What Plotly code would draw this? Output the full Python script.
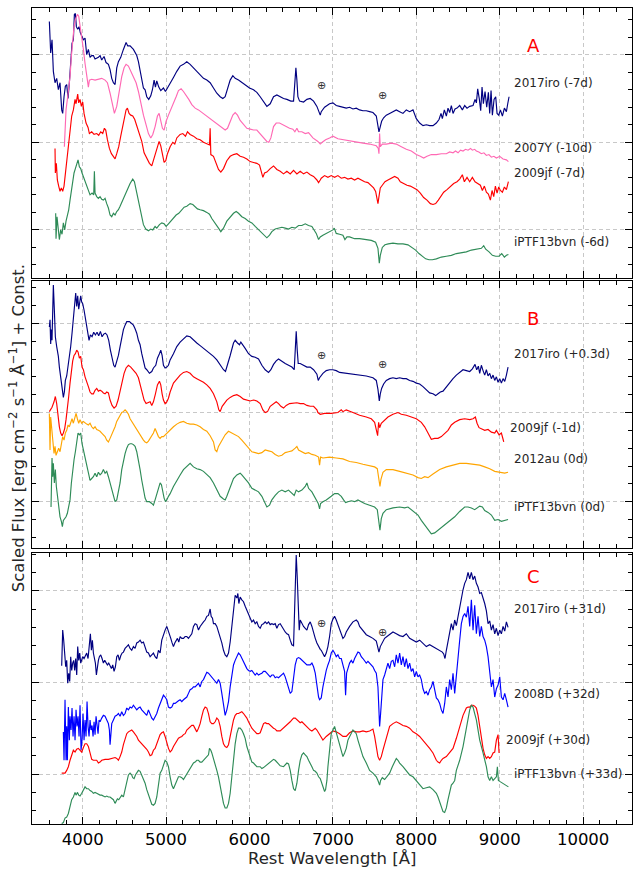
import plotly.graph_objects as go

# ---------------------------------------------------------------
# Spectra: (rest wavelength [Å], scaled flux + const)
# ---------------------------------------------------------------

# Panel A : pre-maximum
A_2017iro = [(3600,2.38),(3616,2.02),(3632,2.17),(3648,1.81),(3668,1.68),(3688,1.73),(3708,1.60),(3728,1.68),(3748,1.37),(3760,1.33),(3776,1.52),(3792,1.64),(3808,1.66),(3824,1.50),(3840,1.68),(3856,1.87),(3872,2.13),(3888,2.17),(3900,2.46),(3912,2.47),(3924,2.32),(3940,2.29),(3956,2.32),(3972,2.25),(3992,2.21),(4008,2.17),(4028,2.19),(4048,2.00),(4068,2.06),(4088,1.97),(4108,1.99),(4128,1.99),(4148,1.95),(4168,1.96),(4188,1.97),(4208,1.99),(4228,1.94),(4256,1.98),(4280,1.91),(4308,1.89),(4328,1.83),(4348,1.73),(4368,1.68),(4388,1.66),(4408,1.85),(4428,1.92),(4456,1.97),(4488,2.06),(4520,2.14),(4540,2.10),(4568,2.10),(4608,2.06),(4628,2.02),(4648,1.99),(4668,1.92),(4688,1.83),(4708,1.74),(4728,1.62),(4748,1.60),(4768,1.52),(4792,1.49),(4816,1.53),(4836,1.60),(4856,1.71),(4872,1.63),(4888,1.70),(4912,1.63),(4936,1.59),(4968,1.62),(4992,1.58),(5016,1.62),(5048,1.68),(5088,1.74),(5128,1.81),(5168,1.87),(5208,1.89),(5248,1.92),(5288,1.89),(5328,1.85),(5368,1.81),(5408,1.77),(5448,1.73),(5488,1.71),(5528,1.68),(5568,1.62),(5608,1.56),(5648,1.52),(5680,1.50),(5708,1.52),(5736,1.60),(5768,1.71),(5800,1.76),(5828,1.73),(5868,1.71),(5908,1.68),(5948,1.65),(6000,1.62),(6048,1.60),(6088,1.57),(6128,1.52),(6168,1.46),(6208,1.41),(6248,1.44),(6288,1.52),(6328,1.54),(6368,1.52),(6408,1.50),(6448,1.49),(6496,1.47),(6528,1.47),(6544,1.68),(6556,1.85),(6568,1.71),(6580,1.52),(6600,1.47),(6648,1.46),(6688,1.49),(6728,1.50),(6768,1.47),(6808,1.41),(6848,1.31),(6860,1.35),(6900,1.40),(6960,1.44),(7000,1.45),(7040,1.42),(7080,1.41),(7120,1.40),(7160,1.39),(7200,1.40),(7240,1.38),(7280,1.39),(7320,1.37),(7360,1.36),(7400,1.36),(7440,1.35),(7480,1.34),(7520,1.30),(7536,1.23),(7552,1.12),(7568,1.18),(7584,1.24),(7608,1.28),(7640,1.31),(7680,1.33),(7720,1.35),(7760,1.37),(7800,1.35),(7840,1.33),(7880,1.37),(7920,1.35),(7960,1.37),(7980,1.31),(8000,1.27),(8040,1.22),(8080,1.19),(8120,1.20),(8160,1.19),(8200,1.19),(8240,1.22),(8272,1.26),(8296,1.33),(8312,1.27),(8336,1.37),(8360,1.30),(8380,1.39),(8400,1.34),(8420,1.42),(8440,1.33),(8464,1.38),(8488,1.39),(8520,1.42),(8552,1.37),(8580,1.42),(8608,1.39),(8640,1.41),(8680,1.42),(8704,1.49),(8720,1.45),(8736,1.61),(8756,1.49),(8772,1.36),(8788,1.63),(8804,1.44),(8824,1.58),(8844,1.40),(8864,1.57),(8880,1.33),(8896,1.59),(8912,1.31),(8932,1.49),(8952,1.52),(8968,1.33),(8988,1.31),(9008,1.37),(9032,1.30),(9056,1.39),(9080,1.35),(9096,1.44),(9112,1.52)]

A_2007Y = [(3780,0.95),(3788,1.18),(3800,1.37),(3816,1.49),(3832,1.60),(3848,1.75),(3864,1.98),(3880,2.17),(3896,2.32),(3912,2.40),(3936,2.46),(3952,2.44),(3968,2.34),(3988,2.21),(4008,2.06),(4028,1.90),(4048,1.75),(4068,1.63),(4080,1.71),(4108,1.72),(4148,1.71),(4188,1.72),(4228,1.73),(4268,1.71),(4296,1.68),(4328,1.56),(4356,1.41),(4380,1.33),(4408,1.41),(4436,1.58),(4468,1.75),(4496,1.85),(4520,1.89),(4548,1.87),(4580,1.81),(4608,1.75),(4640,1.68),(4668,1.58),(4696,1.45),(4728,1.31),(4760,1.20),(4788,1.10),(4816,1.05),(4840,1.09),(4868,1.18),(4896,1.30),(4916,1.33),(4936,1.26),(4956,1.16),(4976,1.14),(5000,1.24),(5028,1.31),(5056,1.37),(5088,1.45),(5120,1.52),(5148,1.59),(5180,1.61),(5208,1.58),(5240,1.54),(5272,1.49),(5308,1.43),(5348,1.39),(5388,1.37),(5428,1.34),(5468,1.31),(5508,1.29),(5548,1.26),(5588,1.23),(5628,1.19),(5668,1.16),(5708,1.14),(5736,1.16),(5768,1.24),(5800,1.31),(5828,1.34),(5856,1.31),(5888,1.25),(5928,1.20),(5968,1.16),(6008,1.15),(6048,1.14),(6088,1.14),(6128,1.10),(6168,1.06),(6208,1.01),(6232,1.00),(6256,1.05),(6288,1.18),(6320,1.22),(6360,1.22),(6400,1.20),(6440,1.18),(6480,1.16),(6520,1.15),(6544,1.12),(6568,1.16),(6588,1.12),(6628,1.12),(6668,1.10),(6708,1.11),(6760,1.05),(6820,1.01),(6848,0.98),(6872,1.00),(6912,1.03),(6960,1.05),(7000,1.07),(7060,1.04),(7120,1.03),(7200,1.01),(7280,1.00),(7360,0.99),(7440,0.98),(7520,0.96),(7544,0.93),(7552,0.87),(7560,1.10),(7568,0.95),(7592,0.98),(7640,0.98),(7700,0.99),(7760,0.98),(7820,0.95),(7880,0.92),(7940,0.90),(8000,0.86),(8048,0.84),(8088,0.82),(8128,0.84),(8180,0.86),(8240,0.86),(8300,0.87),(8360,0.87),(8400,0.89),(8440,0.88),(8470,0.90),(8500,0.88),(8530,0.91),(8560,0.90),(8590,0.92),(8620,0.91),(8650,0.93),(8672,0.91),(8700,0.92),(8720,0.90),(8750,0.89),(8780,0.87),(8810,0.88),(8840,0.85),(8870,0.86),(8900,0.83),(8930,0.84),(8960,0.82),(9000,0.84),(9040,0.81),(9080,0.80),(9104,0.78)]

A_2009jf = [(3668,0.93),(3672,0.65),(3684,0.76),(3696,0.57),(3712,0.50),(3728,0.44),(3744,0.48),(3760,0.44),(3776,0.50),(3792,0.65),(3808,0.80),(3828,0.99),(3848,1.14),(3868,1.30),(3888,1.37),(3908,1.49),(3920,1.44),(3940,1.55),(3952,1.45),(3968,1.49),(3984,1.41),(4000,1.46),(4016,1.33),(4040,1.22),(4064,1.17),(4080,1.10),(4108,1.12),(4136,1.09),(4168,1.10),(4192,1.08),(4216,1.12),(4240,1.10),(4260,1.16),(4276,1.14),(4296,1.03),(4320,0.93),(4344,0.87),(4368,0.83),(4388,0.81),(4408,0.87),(4432,0.95),(4456,1.07),(4480,1.18),(4504,1.30),(4520,1.37),(4536,1.39),(4556,1.33),(4576,1.31),(4600,1.30),(4624,1.26),(4648,1.18),(4680,1.10),(4708,1.01),(4736,0.88),(4768,0.81),(4800,0.76),(4828,0.73),(4848,0.79),(4872,0.88),(4896,0.96),(4916,1.01),(4936,0.96),(4956,0.84),(4976,0.77),(4996,0.79),(5016,0.87),(5048,0.95),(5080,1.00),(5104,0.98),(5128,1.05),(5168,1.09),(5200,1.10),(5232,1.07),(5256,1.12),(5288,1.09),(5328,1.07),(5368,1.04),(5408,1.03),(5448,1.00),(5488,0.98),(5520,0.97),(5528,1.16),(5536,0.86),(5568,0.84),(5600,0.76),(5628,0.69),(5656,0.66),(5688,0.70),(5728,0.79),(5768,0.84),(5808,0.86),(5848,0.87),(5888,0.84),(5928,0.83),(5968,0.81),(6008,0.78),(6048,0.77),(6088,0.76),(6120,0.74),(6140,0.65),(6160,0.60),(6180,0.65),(6208,0.66),(6248,0.70),(6288,0.73),(6328,0.69),(6368,0.67),(6408,0.64),(6448,0.67),(6488,0.64),(6528,0.68),(6568,0.64),(6608,0.67),(6648,0.64),(6688,0.66),(6728,0.63),(6768,0.61),(6808,0.57),(6828,0.54),(6848,0.57),(6860,0.59),(6900,0.62),(6940,0.60),(6980,0.62),(7020,0.60),(7060,0.62),(7100,0.59),(7140,0.60),(7180,0.58),(7220,0.59),(7260,0.57),(7300,0.59),(7340,0.57),(7380,0.55),(7420,0.54),(7460,0.51),(7488,0.48),(7512,0.44),(7528,0.35),(7540,0.30),(7552,0.38),(7568,0.48),(7592,0.51),(7624,0.55),(7660,0.57),(7700,0.59),(7740,0.61),(7780,0.59),(7808,0.55),(7848,0.53),(7888,0.51),(7928,0.50),(7968,0.48),(8008,0.46),(8048,0.42),(8088,0.37),(8128,0.34),(8168,0.30),(8200,0.29),(8232,0.30),(8264,0.34),(8296,0.39),(8328,0.43),(8368,0.46),(8408,0.50),(8448,0.53),(8488,0.55),(8520,0.58),(8552,0.63),(8576,0.55),(8608,0.60),(8640,0.55),(8672,0.60),(8704,0.55),(8736,0.53),(8768,0.51),(8792,0.45),(8816,0.50),(8840,0.43),(8864,0.41),(8888,0.34),(8908,0.45),(8928,0.38),(8948,0.50),(8968,0.42),(8988,0.49),(9008,0.45),(9032,0.43),(9056,0.49),(9080,0.46),(9104,0.55)]

A_iPTF13bvn = [(3676,0.19),(3680,-0.10),(3692,0.15),(3708,0.00),(3720,-0.11),(3736,0.00),(3752,-0.05),(3768,0.08),(3784,0.00),(3800,0.10),(3816,0.15),(3832,0.23),(3848,0.34),(3864,0.46),(3880,0.57),(3896,0.65),(3912,0.70),(3928,0.75),(3944,0.80),(3960,0.72),(3976,0.70),(3992,0.65),(4008,0.61),(4028,0.55),(4048,0.50),(4068,0.44),(4088,0.40),(4112,0.42),(4132,0.40),(4140,0.67),(4148,0.42),(4168,0.38),(4188,0.36),(4208,0.38),(4228,0.35),(4248,0.34),(4268,0.36),(4288,0.30),(4308,0.25),(4328,0.17),(4348,0.15),(4368,0.19),(4388,0.17),(4408,0.21),(4428,0.23),(4448,0.27),(4480,0.34),(4508,0.42),(4536,0.48),(4568,0.53),(4600,0.58),(4620,0.55),(4640,0.46),(4668,0.34),(4688,0.26),(4708,0.15),(4728,0.06),(4756,0.01),(4788,-0.01),(4816,0.01),(4840,0.00),(4868,0.04),(4888,0.02),(4920,0.06),(4948,0.08),(4976,0.07),(5000,0.04),(5028,0.07),(5056,0.10),(5088,0.13),(5120,0.17),(5152,0.19),(5188,0.23),(5216,0.26),(5248,0.27),(5288,0.30),(5320,0.29),(5348,0.27),(5376,0.24),(5408,0.23),(5448,0.22),(5488,0.20),(5520,0.18),(5548,0.13),(5588,0.08),(5628,0.02),(5656,-0.02),(5688,0.02),(5728,0.10),(5768,0.15),(5808,0.19),(5840,0.21),(5868,0.19),(5908,0.15),(5948,0.13),(5988,0.10),(6028,0.08),(6068,0.04),(6108,0.00),(6148,-0.04),(6188,-0.08),(6208,-0.09),(6240,-0.06),(6268,-0.02),(6308,0.01),(6348,0.02),(6388,0.03),(6428,0.02),(6468,0.01),(6508,0.03),(6548,0.02),(6588,0.05),(6628,0.05),(6668,0.07),(6708,0.05),(6748,0.04),(6800,-0.04),(6828,-0.11),(6848,-0.08),(6880,-0.06),(6920,-0.04),(6960,-0.02),(7000,0.00),(7016,0.02),(7040,-0.04),(7080,-0.05),(7120,-0.06),(7144,-0.11),(7168,-0.08),(7200,-0.08),(7260,-0.10),(7320,-0.10),(7400,-0.11),(7460,-0.12),(7512,-0.14),(7540,-0.21),(7556,-0.38),(7568,-0.29),(7592,-0.20),(7624,-0.17),(7664,-0.16),(7720,-0.15),(7780,-0.16),(7840,-0.16),(7900,-0.17),(7952,-0.20),(7992,-0.23),(8032,-0.27),(8072,-0.30),(8112,-0.33),(8152,-0.34),(8192,-0.34),(8240,-0.33),(8300,-0.31),(8360,-0.30),(8420,-0.29),(8480,-0.27),(8540,-0.26),(8600,-0.25),(8660,-0.23),(8720,-0.22),(8780,-0.21),(8808,-0.18),(8832,-0.22),(8872,-0.25),(8912,-0.29),(8952,-0.30),(8992,-0.30),(9024,-0.27),(9056,-0.31),(9080,-0.29),(9104,-0.28)]

# Panel B : around maximum
B_2017iro = [(3600,1.96),(3608,2.04),(3616,1.77),(3624,1.93),(3632,1.81),(3640,2.19),(3648,2.43),(3660,2.15),(3672,1.85),(3688,1.74),(3708,1.63),(3720,1.51),(3736,1.40),(3752,1.28),(3768,1.17),(3780,1.23),(3792,1.36),(3808,1.41),(3824,1.51),(3840,1.62),(3856,1.74),(3872,1.89),(3888,2.07),(3904,2.19),(3916,2.34),(3928,2.19),(3940,2.31),(3952,2.16),(3964,2.27),(3976,2.31),(3988,2.24),(4000,2.22),(4016,2.15),(4032,2.07),(4044,2.00),(4060,1.93),(4076,1.81),(4092,1.87),(4112,1.85),(4132,1.90),(4152,1.87),(4172,1.90),(4192,1.86),(4212,1.91),(4232,1.85),(4252,1.88),(4272,1.89),(4292,1.87),(4312,1.81),(4332,1.70),(4352,1.62),(4372,1.53),(4388,1.51),(4408,1.57),(4428,1.64),(4448,1.74),(4468,1.85),(4488,1.93),(4508,1.98),(4528,2.02),(4560,2.02),(4588,2.00),(4608,1.98),(4628,1.94),(4648,1.89),(4668,1.81),(4688,1.76),(4708,1.66),(4728,1.59),(4748,1.50),(4768,1.48),(4800,1.44),(4828,1.46),(4848,1.50),(4876,1.53),(4896,1.61),(4920,1.66),(4936,1.70),(4952,1.64),(4968,1.53),(4988,1.50),(5008,1.51),(5028,1.53),(5048,1.59),(5088,1.66),(5128,1.74),(5168,1.79),(5208,1.83),(5248,1.86),(5288,1.85),(5328,1.81),(5368,1.78),(5408,1.75),(5448,1.72),(5488,1.70),(5528,1.67),(5568,1.63),(5608,1.59),(5648,1.53),(5688,1.48),(5712,1.46),(5736,1.53),(5768,1.64),(5808,1.78),(5828,1.81),(5856,1.78),(5880,1.76),(5896,1.79),(5920,1.75),(5948,1.72),(5988,1.66),(6028,1.63),(6068,1.62),(6108,1.60),(6148,1.53),(6188,1.48),(6228,1.45),(6256,1.48),(6288,1.54),(6320,1.58),(6348,1.60),(6388,1.57),(6428,1.55),(6468,1.53),(6508,1.51),(6536,1.48),(6548,1.70),(6560,1.91),(6572,1.70),(6584,1.55),(6608,1.55),(6648,1.53),(6688,1.51),(6728,1.51),(6768,1.48),(6808,1.43),(6824,1.36),(6840,1.39),(6880,1.44),(6920,1.47),(6960,1.48),(7000,1.48),(7040,1.47),(7080,1.45),(7160,1.44),(7240,1.43),(7320,1.42),(7400,1.41),(7480,1.39),(7520,1.36),(7540,1.26),(7556,1.13),(7568,1.21),(7584,1.27),(7608,1.32),(7640,1.36),(7680,1.38),(7720,1.39),(7760,1.38),(7800,1.39),(7840,1.38),(7880,1.38),(7920,1.36),(7960,1.35),(8000,1.33),(8040,1.32),(8080,1.29),(8120,1.25),(8160,1.22),(8200,1.21),(8232,1.19),(8260,1.21),(8288,1.23),(8320,1.24),(8360,1.29),(8400,1.33),(8440,1.38),(8480,1.42),(8520,1.45),(8560,1.48),(8600,1.47),(8640,1.46),(8672,1.49),(8704,1.54),(8724,1.48),(8744,1.52),(8760,1.44),(8780,1.53),(8800,1.47),(8820,1.42),(8840,1.48),(8860,1.41),(8880,1.44),(8900,1.38),(8920,1.42),(8940,1.36),(8960,1.40),(8980,1.34),(9000,1.38),(9020,1.33),(9040,1.38),(9060,1.35),(9080,1.42),(9100,1.51)]

B_2009jf = [(3600,1.01),(3632,1.06),(3656,1.12),(3672,1.18),(3688,1.10),(3704,0.95),(3720,0.84),(3736,0.77),(3752,0.74),(3768,0.77),(3784,0.82),(3800,0.92),(3816,1.03),(3832,1.18),(3848,1.33),(3864,1.48),(3880,1.58),(3896,1.64),(3912,1.66),(3928,1.70),(3944,1.68),(3960,1.61),(3976,1.63),(3992,1.51),(4008,1.48),(4028,1.40),(4048,1.33),(4068,1.29),(4088,1.23),(4108,1.21),(4128,1.21),(4148,1.25),(4168,1.27),(4188,1.24),(4208,1.25),(4228,1.24),(4248,1.22),(4268,1.21),(4288,1.23),(4308,1.22),(4328,1.14),(4352,1.08),(4376,1.05),(4400,1.07),(4424,1.14),(4448,1.25),(4472,1.36),(4496,1.44),(4520,1.50),(4548,1.53),(4576,1.51),(4608,1.48),(4640,1.44),(4668,1.39),(4688,1.31),(4712,1.21),(4736,1.14),(4760,1.10),(4784,1.11),(4808,1.12),(4828,1.08),(4848,1.12),(4872,1.21),(4896,1.31),(4920,1.35),(4936,1.31),(4952,1.21),(4968,1.14),(4988,1.10),(5008,1.12),(5028,1.16),(5048,1.23),(5088,1.33),(5128,1.38),(5168,1.42),(5208,1.45),(5248,1.46),(5288,1.44),(5328,1.40),(5368,1.38),(5408,1.36),(5448,1.34),(5488,1.31),(5528,1.27),(5568,1.21),(5608,1.12),(5632,1.03),(5648,1.01),(5672,1.07),(5696,1.10),(5728,1.14),(5768,1.17),(5808,1.19),(5848,1.20),(5888,1.18),(5928,1.15),(5968,1.14),(6008,1.13),(6048,1.14),(6088,1.13),(6128,1.10),(6160,1.03),(6188,1.00),(6216,1.01),(6248,1.07),(6288,1.10),(6320,1.12),(6348,1.10),(6376,1.07),(6408,1.05),(6440,1.08),(6480,1.10),(6528,1.11),(6568,1.11),(6608,1.10),(6648,1.10),(6688,1.08),(6728,1.07),(6768,1.07),(6808,1.03),(6820,1.00),(6848,0.98),(6900,0.99),(6980,0.99),(7060,1.00),(7100,1.03),(7120,1.01),(7160,1.03),(7240,1.00),(7320,0.97),(7400,0.95),(7460,0.93),(7500,0.89),(7524,0.81),(7536,0.74),(7548,0.89),(7560,0.83),(7580,0.88),(7620,0.92),(7660,0.95),(7720,0.98),(7780,1.00),(7820,0.98),(7880,0.97),(7940,0.95),(8000,0.93),(8060,0.89),(8100,0.84),(8140,0.77),(8180,0.70),(8220,0.71),(8260,0.71),(8300,0.73),(8340,0.77),(8380,0.80),(8420,0.86),(8460,0.89),(8520,0.92),(8580,0.93),(8640,0.92),(8680,0.93),(8708,0.95),(8728,0.88),(8752,0.83),(8780,0.82),(8820,0.80),(8860,0.81),(8900,0.78),(8940,0.77),(8960,0.80),(8992,0.75),(9020,0.77),(9040,0.70),(9048,0.67)]

B_2012au = [(3600,0.99),(3608,0.58),(3616,0.95),(3628,0.80),(3640,0.65),(3656,0.54),(3668,0.62),(3680,0.52),(3696,0.56),(3712,0.60),(3728,0.56),(3744,0.65),(3760,0.73),(3776,0.69),(3792,0.77),(3808,0.80),(3824,0.86),(3840,0.84),(3856,0.90),(3872,0.93),(3888,0.88),(3904,0.95),(3920,0.99),(3936,0.93),(3952,0.88),(3968,0.92),(3988,0.88),(4008,0.90),(4028,0.88),(4048,0.87),(4068,0.86),(4088,0.88),(4108,0.84),(4128,0.82),(4148,0.84),(4168,0.81),(4188,0.80),(4208,0.79),(4228,0.77),(4248,0.75),(4268,0.73),(4288,0.69),(4308,0.67),(4328,0.71),(4348,0.75),(4368,0.80),(4388,0.84),(4408,0.90),(4428,0.93),(4448,0.97),(4468,1.00),(4488,1.01),(4508,1.03),(4528,1.01),(4548,0.98),(4568,0.93),(4588,0.90),(4608,0.87),(4628,0.84),(4648,0.81),(4668,0.77),(4688,0.75),(4708,0.72),(4728,0.69),(4748,0.67),(4768,0.66),(4788,0.68),(4808,0.71),(4828,0.74),(4848,0.77),(4868,0.82),(4888,0.77),(4908,0.73),(4928,0.71),(4948,0.73),(4968,0.73),(4988,0.75),(5008,0.77),(5048,0.80),(5088,0.84),(5128,0.87),(5168,0.89),(5208,0.90),(5248,0.88),(5288,0.87),(5328,0.87),(5368,0.86),(5408,0.84),(5448,0.81),(5488,0.79),(5528,0.74),(5568,0.67),(5588,0.58),(5608,0.56),(5628,0.62),(5668,0.69),(5708,0.75),(5748,0.79),(5788,0.77),(5828,0.75),(5868,0.73),(5908,0.69),(5948,0.65),(5988,0.60),(6028,0.56),(6068,0.55),(6108,0.54),(6148,0.55),(6188,0.58),(6228,0.57),(6268,0.56),(6308,0.53),(6348,0.51),(6388,0.52),(6428,0.55),(6468,0.56),(6508,0.57),(6548,0.60),(6568,0.62),(6588,0.58),(6628,0.56),(6668,0.54),(6708,0.55),(6748,0.53),(6788,0.52),(6828,0.50),(6840,0.41),(6852,0.50),(6880,0.49),(6960,0.50),(7040,0.49),(7120,0.48),(7200,0.45),(7280,0.44),(7360,0.42),(7440,0.40),(7500,0.39),(7532,0.37),(7548,0.26),(7564,0.17),(7576,0.25),(7600,0.33),(7640,0.36),(7720,0.36),(7800,0.34),(7880,0.32),(7960,0.30),(8020,0.27),(8060,0.26),(8100,0.28),(8140,0.27),(8200,0.31),(8280,0.36),(8360,0.39),(8440,0.41),(8520,0.43),(8600,0.43),(8680,0.42),(8760,0.41),(8820,0.39),(8880,0.37),(8940,0.34),(9000,0.33),(9060,0.32),(9100,0.33)]

B_iPTF13bvn = [(3620,-0.06),(3632,0.49),(3640,0.28),(3648,0.43),(3660,0.21),(3672,0.36),(3684,0.17),(3696,0.06),(3712,-0.09),(3728,-0.17),(3744,-0.22),(3756,-0.28),(3768,-0.21),(3784,-0.19),(3800,-0.17),(3816,-0.13),(3832,-0.07),(3848,0.02),(3864,0.21),(3880,0.36),(3896,0.47),(3912,0.56),(3928,0.69),(3944,0.77),(3960,0.75),(3976,0.77),(3992,0.65),(4008,0.58),(4028,0.47),(4048,0.39),(4068,0.32),(4088,0.24),(4108,0.26),(4128,0.28),(4148,0.32),(4168,0.28),(4188,0.33),(4208,0.30),(4228,0.32),(4248,0.36),(4268,0.32),(4288,0.34),(4308,0.28),(4328,0.21),(4348,0.11),(4368,0.04),(4388,0.00),(4408,0.02),(4428,0.11),(4448,0.21),(4468,0.36),(4488,0.47),(4508,0.54),(4528,0.60),(4548,0.64),(4568,0.65),(4588,0.65),(4608,0.64),(4628,0.62),(4648,0.56),(4668,0.47),(4688,0.36),(4708,0.24),(4728,0.13),(4748,0.04),(4768,0.00),(4800,0.00),(4828,-0.02),(4848,-0.04),(4868,0.02),(4888,0.09),(4908,0.17),(4928,0.21),(4944,0.19),(4960,0.09),(4976,0.04),(4992,0.00),(5008,0.02),(5028,0.06),(5048,0.09),(5088,0.17),(5128,0.24),(5168,0.30),(5208,0.36),(5248,0.39),(5288,0.43),(5308,0.41),(5328,0.39),(5368,0.37),(5408,0.36),(5448,0.34),(5488,0.30),(5528,0.27),(5568,0.21),(5608,0.13),(5648,0.06),(5688,0.03),(5708,0.02),(5728,0.06),(5768,0.17),(5808,0.26),(5848,0.30),(5888,0.32),(5908,0.30),(5948,0.26),(5988,0.21),(6028,0.15),(6068,0.13),(6108,0.11),(6148,0.06),(6188,-0.02),(6208,-0.06),(6240,-0.04),(6268,0.02),(6308,0.07),(6348,0.11),(6388,0.13),(6428,0.11),(6468,0.13),(6508,0.10),(6536,0.07),(6560,0.13),(6588,0.11),(6628,0.13),(6668,0.17),(6688,0.21),(6708,0.15),(6748,0.11),(6800,0.02),(6824,-0.02),(6840,-0.08),(6852,-0.02),(6880,0.00),(6920,0.02),(6980,0.06),(7020,0.09),(7060,0.09),(7100,0.06),(7128,0.02),(7152,-0.01),(7180,0.00),(7220,0.01),(7260,0.00),(7300,0.02),(7340,0.00),(7380,-0.02),(7440,-0.04),(7500,-0.06),(7532,-0.09),(7548,-0.21),(7564,-0.32),(7580,-0.19),(7600,-0.13),(7640,-0.09),(7720,-0.07),(7800,-0.06),(7860,-0.07),(7900,-0.06),(7940,-0.09),(7980,-0.11),(8020,-0.15),(8060,-0.21),(8100,-0.26),(8140,-0.32),(8180,-0.36),(8220,-0.35),(8260,-0.32),(8300,-0.30),(8340,-0.26),(8400,-0.22),(8460,-0.17),(8520,-0.11),(8580,-0.06),(8620,-0.06),(8660,-0.07),(8700,-0.09),(8740,-0.06),(8760,-0.05),(8792,-0.06),(8820,-0.10),(8860,-0.12),(8900,-0.15),(8940,-0.21),(8980,-0.20),(9020,-0.22),(9060,-0.21),(9100,-0.20)]

# Panel C : about one month after maximum
C_2017iro = [(3748,1.18),(3760,1.57),(3772,1.46),(3784,1.28),(3796,1.17),(3808,1.24),(3820,0.99),(3832,1.10),(3844,1.01),(3856,1.28),(3868,1.13),(3880,1.21),(3892,1.24),(3904,1.13),(3916,1.26),(3928,1.08),(3940,1.39),(3952,1.24),(3964,1.32),(3976,1.21),(3988,1.24),(4000,1.28),(4016,1.26),(4032,1.30),(4048,1.32),(4064,1.26),(4080,1.43),(4092,1.53),(4104,1.35),(4116,1.46),(4128,1.32),(4140,1.28),(4152,1.21),(4164,1.08),(4176,1.19),(4188,1.24),(4200,1.28),(4216,1.30),(4232,1.26),(4248,1.21),(4264,1.24),(4280,1.21),(4296,1.19),(4312,1.21),(4328,1.17),(4344,1.15),(4360,1.19),(4376,1.12),(4392,1.17),(4408,1.28),(4424,1.30),(4440,1.24),(4456,1.29),(4472,1.32),(4488,1.33),(4508,1.37),(4528,1.39),(4548,1.41),(4568,1.37),(4588,1.35),(4608,1.39),(4628,1.37),(4648,1.43),(4668,1.44),(4688,1.46),(4708,1.43),(4728,1.44),(4748,1.39),(4768,1.33),(4788,1.32),(4808,1.28),(4828,1.30),(4848,1.32),(4868,1.28),(4888,1.26),(4908,1.35),(4928,1.32),(4948,1.46),(4968,1.52),(4988,1.57),(5008,1.61),(5020,1.57),(5036,1.52),(5056,1.48),(5072,1.43),(5088,1.39),(5104,1.43),(5120,1.46),(5136,1.48),(5152,1.44),(5168,1.50),(5188,1.48),(5208,1.48),(5228,1.50),(5248,1.50),(5268,1.48),(5288,1.50),(5308,1.53),(5328,1.61),(5348,1.64),(5368,1.63),(5388,1.57),(5408,1.61),(5428,1.64),(5448,1.66),(5468,1.68),(5488,1.72),(5508,1.73),(5528,1.80),(5540,1.72),(5556,1.70),(5568,1.64),(5588,1.64),(5608,1.61),(5628,1.55),(5648,1.50),(5668,1.43),(5688,1.35),(5708,1.30),(5728,1.28),(5748,1.32),(5768,1.44),(5788,1.61),(5808,1.83),(5828,1.95),(5848,1.92),(5860,1.97),(5872,1.86),(5888,1.93),(5908,1.90),(5928,1.88),(5948,1.83),(5968,1.79),(5988,1.75),(6008,1.70),(6028,1.66),(6048,1.68),(6068,1.64),(6088,1.66),(6108,1.61),(6128,1.59),(6148,1.63),(6168,1.64),(6188,1.66),(6208,1.64),(6228,1.66),(6248,1.63),(6268,1.64),(6288,1.63),(6308,1.64),(6328,1.59),(6348,1.63),(6368,1.64),(6388,1.61),(6408,1.57),(6428,1.55),(6448,1.53),(6468,1.52),(6488,1.46),(6508,1.41),(6528,1.40),(6544,1.83),(6556,2.28),(6560,2.39),(6572,2.15),(6584,1.83),(6596,1.57),(6608,1.68),(6628,1.64),(6648,1.61),(6668,1.59),(6688,1.57),(6708,1.63),(6728,1.66),(6748,1.61),(6768,1.53),(6788,1.48),(6808,1.43),(6828,1.39),(6848,1.36),(6860,1.35),(6880,1.31),(6900,1.28),(6920,1.32),(6940,1.39),(6960,1.50),(6980,1.64),(7000,1.69),(7020,1.72),(7040,1.68),(7060,1.63),(7080,1.57),(7100,1.52),(7120,1.48),(7140,1.50),(7160,1.55),(7200,1.61),(7240,1.66),(7280,1.68),(7300,1.66),(7320,1.61),(7360,1.57),(7400,1.52),(7440,1.50),(7480,1.48),(7520,1.45),(7540,1.39),(7552,1.33),(7568,1.39),(7592,1.44),(7620,1.48),(7648,1.50),(7680,1.52),(7720,1.55),(7760,1.53),(7800,1.51),(7840,1.50),(7880,1.53),(7920,1.48),(7960,1.46),(8000,1.44),(8040,1.46),(8080,1.43),(8120,1.39),(8160,1.41),(8200,1.39),(8240,1.37),(8280,1.35),(8312,1.33),(8328,1.31),(8344,1.26),(8360,1.35),(8380,1.46),(8400,1.53),(8420,1.64),(8440,1.57),(8460,1.68),(8480,1.62),(8500,1.72),(8520,1.83),(8540,1.90),(8560,2.01),(8580,2.08),(8600,2.12),(8620,2.20),(8640,2.13),(8660,2.20),(8680,2.12),(8700,2.16),(8720,2.08),(8740,2.04),(8760,1.97),(8780,1.98),(8800,1.93),(8820,1.86),(8840,1.78),(8860,1.64),(8880,1.67),(8900,1.57),(8920,1.63),(8940,1.53),(8960,1.59),(8980,1.51),(9000,1.57),(9020,1.53),(9040,1.61),(9060,1.56),(9080,1.66),(9100,1.60)]

C_2008D = [(3768,0.46),(3776,0.15),(3788,0.81),(3800,0.15),(3808,0.52),(3816,0.15),(3828,0.73),(3840,0.37),(3848,0.63),(3860,0.48),(3872,0.72),(3884,0.41),(3896,0.63),(3908,0.37),(3920,0.70),(3932,0.52),(3944,0.63),(3956,0.41),(3968,0.75),(3980,0.26),(3992,0.37),(4004,0.66),(4016,0.37),(4028,0.59),(4040,0.41),(4052,0.79),(4064,0.52),(4076,0.41),(4088,0.59),(4100,0.48),(4112,0.53),(4124,0.41),(4136,0.57),(4148,0.43),(4160,0.63),(4172,0.53),(4184,0.44),(4196,0.59),(4208,0.57),(4228,0.61),(4248,0.64),(4268,0.63),(4288,0.59),(4308,0.55),(4320,0.48),(4328,0.32),(4336,0.41),(4348,0.55),(4368,0.59),(4388,0.63),(4408,0.64),(4428,0.66),(4448,0.63),(4468,0.68),(4488,0.64),(4508,0.66),(4528,0.72),(4548,0.70),(4568,0.73),(4588,0.72),(4608,0.75),(4628,0.73),(4648,0.70),(4668,0.72),(4688,0.73),(4708,0.70),(4728,0.68),(4748,0.66),(4768,0.64),(4788,0.70),(4808,0.66),(4828,0.61),(4848,0.59),(4868,0.63),(4888,0.66),(4908,0.72),(4928,0.77),(4948,0.83),(4968,0.86),(4988,0.84),(5008,0.81),(5028,0.73),(5048,0.72),(5068,0.73),(5088,0.77),(5108,0.77),(5128,0.79),(5148,0.80),(5168,0.81),(5188,0.79),(5208,0.81),(5228,0.83),(5248,0.84),(5268,0.88),(5288,0.92),(5308,0.93),(5328,0.95),(5348,0.95),(5368,0.97),(5388,0.99),(5408,0.95),(5428,1.01),(5448,1.03),(5468,1.07),(5488,1.11),(5508,1.10),(5528,1.08),(5548,1.06),(5568,1.03),(5588,1.01),(5608,0.99),(5628,1.03),(5648,0.99),(5668,0.88),(5688,0.73),(5708,0.64),(5728,0.70),(5748,0.79),(5768,0.95),(5788,1.10),(5808,1.19),(5828,1.24),(5848,1.28),(5868,1.32),(5888,1.30),(5908,1.26),(5928,1.23),(5948,1.19),(5968,1.15),(5988,1.13),(6008,1.12),(6028,1.13),(6048,1.10),(6068,1.08),(6088,1.10),(6108,1.08),(6128,1.09),(6148,1.10),(6168,1.12),(6188,1.12),(6208,1.10),(6228,1.08),(6248,1.06),(6268,1.08),(6288,1.08),(6308,1.05),(6328,1.06),(6348,1.05),(6368,1.07),(6388,1.08),(6408,1.10),(6428,1.06),(6448,0.99),(6468,0.92),(6488,0.88),(6508,0.90),(6528,1.03),(6548,1.19),(6568,1.26),(6588,1.27),(6608,1.26),(6628,1.24),(6648,1.23),(6668,1.21),(6688,1.19),(6708,1.19),(6728,1.19),(6748,1.21),(6768,1.17),(6788,1.10),(6808,0.95),(6828,0.84),(6840,0.81),(6860,0.83),(6880,0.95),(6900,1.06),(6920,1.13),(6940,1.19),(6960,1.24),(6980,1.32),(7000,1.35),(7020,1.32),(7040,1.28),(7060,1.30),(7080,1.26),(7100,1.26),(7120,1.17),(7140,1.12),(7152,0.86),(7164,1.10),(7180,1.15),(7200,1.21),(7220,1.24),(7240,1.21),(7260,1.26),(7280,1.30),(7300,1.33),(7320,1.32),(7340,1.28),(7360,1.26),(7380,1.24),(7400,1.21),(7420,1.23),(7440,1.21),(7460,1.19),(7480,1.17),(7500,1.13),(7520,1.10),(7540,0.95),(7552,0.66),(7560,0.52),(7572,0.66),(7584,0.84),(7600,1.03),(7620,1.08),(7640,1.15),(7660,1.21),(7680,1.15),(7700,1.23),(7720,1.24),(7740,1.17),(7760,1.30),(7780,1.21),(7800,1.32),(7820,1.19),(7840,1.28),(7860,1.17),(7880,1.26),(7900,1.15),(7920,1.21),(7940,1.12),(7960,1.15),(7980,1.06),(8000,1.12),(8020,1.06),(8040,1.08),(8060,1.03),(8080,0.93),(8100,0.88),(8120,0.90),(8140,0.86),(8160,0.92),(8180,0.95),(8200,1.01),(8220,0.93),(8240,0.83),(8260,0.81),(8280,0.77),(8300,0.70),(8320,0.66),(8340,0.77),(8360,0.95),(8380,0.84),(8400,1.03),(8420,0.92),(8440,1.10),(8460,0.88),(8480,1.10),(8500,1.28),(8520,1.46),(8540,1.64),(8560,1.72),(8580,1.75),(8600,1.71),(8620,1.83),(8640,1.61),(8660,1.90),(8680,1.57),(8700,1.84),(8720,1.53),(8740,1.72),(8760,1.50),(8780,1.61),(8800,1.50),(8820,1.46),(8840,1.39),(8860,1.28),(8880,1.13),(8900,0.95),(8920,1.03),(8940,0.84),(8960,0.93),(8980,0.97),(9000,1.06),(9020,0.84),(9040,0.81),(9060,0.88),(9080,0.81),(9100,0.73)]

C_2009jf = [(3748,0.01),(3788,0.01),(3808,0.04),(3828,0.08),(3848,0.15),(3868,0.22),(3888,0.26),(3908,0.24),(3928,0.27),(3948,0.28),(3968,0.26),(3988,0.24),(4008,0.29),(4028,0.33),(4048,0.33),(4068,0.30),(4088,0.23),(4108,0.16),(4128,0.15),(4148,0.15),(4168,0.15),(4188,0.12),(4208,0.13),(4228,0.15),(4268,0.16),(4308,0.16),(4348,0.17),(4388,0.18),(4408,0.17),(4428,0.15),(4448,0.19),(4468,0.24),(4488,0.32),(4508,0.39),(4528,0.44),(4548,0.46),(4568,0.47),(4588,0.48),(4608,0.46),(4628,0.44),(4648,0.41),(4668,0.37),(4688,0.35),(4708,0.33),(4728,0.32),(4748,0.29),(4768,0.27),(4788,0.24),(4808,0.20),(4828,0.21),(4848,0.26),(4868,0.28),(4888,0.33),(4908,0.38),(4928,0.43),(4948,0.45),(4968,0.46),(4988,0.41),(5008,0.33),(5028,0.28),(5048,0.24),(5068,0.26),(5088,0.30),(5108,0.33),(5128,0.37),(5148,0.39),(5168,0.40),(5188,0.41),(5208,0.43),(5228,0.44),(5248,0.48),(5268,0.50),(5288,0.52),(5308,0.53),(5328,0.53),(5348,0.50),(5368,0.46),(5388,0.50),(5408,0.55),(5428,0.63),(5448,0.70),(5468,0.73),(5488,0.72),(5508,0.66),(5528,0.57),(5548,0.55),(5568,0.55),(5588,0.57),(5608,0.61),(5628,0.59),(5648,0.52),(5668,0.41),(5688,0.33),(5708,0.30),(5728,0.29),(5748,0.32),(5768,0.41),(5788,0.52),(5808,0.59),(5828,0.64),(5848,0.66),(5868,0.66),(5888,0.67),(5908,0.68),(5928,0.66),(5948,0.64),(5968,0.61),(5988,0.57),(6008,0.53),(6028,0.50),(6048,0.48),(6068,0.46),(6088,0.44),(6108,0.44),(6128,0.45),(6148,0.50),(6168,0.55),(6188,0.56),(6208,0.55),(6228,0.55),(6248,0.53),(6268,0.52),(6288,0.50),(6308,0.49),(6328,0.47),(6368,0.47),(6408,0.50),(6428,0.52),(6448,0.53),(6468,0.55),(6488,0.57),(6508,0.59),(6528,0.61),(6548,0.61),(6568,0.59),(6588,0.57),(6608,0.56),(6628,0.57),(6648,0.55),(6668,0.53),(6688,0.52),(6708,0.50),(6728,0.48),(6748,0.47),(6768,0.49),(6788,0.50),(6808,0.48),(6828,0.45),(6848,0.42),(6880,0.37),(6920,0.41),(6960,0.44),(7000,0.47),(7040,0.46),(7080,0.44),(7120,0.41),(7160,0.41),(7200,0.45),(7240,0.47),(7280,0.46),(7320,0.46),(7360,0.47),(7400,0.46),(7440,0.47),(7480,0.49),(7500,0.41),(7520,0.30),(7540,0.19),(7560,0.15),(7580,0.19),(7600,0.26),(7620,0.33),(7640,0.41),(7660,0.46),(7680,0.52),(7720,0.55),(7760,0.57),(7800,0.55),(7840,0.53),(7880,0.52),(7920,0.50),(7960,0.46),(8000,0.44),(8040,0.41),(8080,0.37),(8120,0.32),(8160,0.28),(8200,0.23),(8240,0.15),(8260,0.13),(8280,0.12),(8300,0.15),(8320,0.17),(8360,0.19),(8400,0.23),(8440,0.28),(8480,0.39),(8520,0.52),(8560,0.64),(8600,0.72),(8620,0.73),(8640,0.73),(8660,0.75),(8680,0.75),(8700,0.74),(8720,0.72),(8740,0.64),(8760,0.52),(8780,0.37),(8800,0.28),(8820,0.21),(8840,0.17),(8860,0.19),(8880,0.17),(8900,0.19),(8920,0.23),(8940,0.24),(8960,0.37),(8980,0.43),(8992,0.23)]

C_iPTF13bvn = [(3748,-0.54),(3768,-0.53),(3788,-0.48),(3808,-0.47),(3828,-0.43),(3848,-0.36),(3868,-0.28),(3888,-0.25),(3908,-0.20),(3920,-0.23),(3936,-0.20),(3952,-0.23),(3968,-0.24),(3988,-0.21),(4008,-0.17),(4028,-0.14),(4048,-0.16),(4068,-0.16),(4088,-0.18),(4108,-0.19),(4128,-0.21),(4148,-0.20),(4168,-0.21),(4188,-0.22),(4208,-0.23),(4228,-0.23),(4248,-0.24),(4268,-0.25),(4288,-0.24),(4308,-0.25),(4328,-0.25),(4348,-0.27),(4368,-0.28),(4388,-0.32),(4400,-0.30),(4416,-0.27),(4432,-0.28),(4448,-0.25),(4468,-0.23),(4488,-0.25),(4508,-0.16),(4528,-0.07),(4548,-0.01),(4568,0.01),(4588,-0.01),(4600,-0.04),(4616,-0.05),(4632,-0.01),(4648,0.01),(4668,0.04),(4688,0.03),(4708,-0.01),(4728,-0.05),(4748,-0.10),(4768,-0.17),(4788,-0.23),(4808,-0.28),(4828,-0.33),(4848,-0.34),(4868,-0.32),(4888,-0.25),(4908,-0.14),(4928,0.01),(4948,0.04),(4968,0.11),(4988,0.15),(5008,0.13),(5028,0.08),(5048,-0.03),(5068,-0.12),(5088,-0.16),(5108,-0.12),(5128,-0.07),(5148,-0.03),(5168,-0.03),(5188,-0.04),(5208,-0.06),(5228,-0.03),(5248,0.01),(5268,0.03),(5288,0.06),(5308,0.10),(5328,0.12),(5348,0.13),(5368,0.15),(5388,0.15),(5408,0.13),(5428,0.13),(5448,0.15),(5468,0.17),(5488,0.19),(5508,0.21),(5520,0.28),(5536,0.26),(5548,0.23),(5568,0.17),(5588,0.12),(5608,0.04),(5628,-0.03),(5648,-0.14),(5668,-0.23),(5688,-0.32),(5708,-0.37),(5728,-0.37),(5748,-0.32),(5768,-0.21),(5788,-0.03),(5808,0.19),(5828,0.33),(5848,0.44),(5868,0.50),(5888,0.50),(5908,0.48),(5928,0.44),(5948,0.39),(5968,0.30),(5988,0.24),(6008,0.19),(6028,0.13),(6048,0.12),(6068,0.10),(6088,0.08),(6128,0.08),(6148,0.06),(6168,0.07),(6208,0.10),(6248,0.13),(6268,0.15),(6288,0.16),(6308,0.15),(6328,0.13),(6348,0.11),(6368,0.09),(6408,0.08),(6428,0.10),(6448,0.12),(6468,0.11),(6488,0.04),(6508,-0.07),(6528,-0.16),(6548,-0.18),(6568,-0.10),(6588,0.04),(6608,0.15),(6628,0.21),(6648,0.23),(6668,0.21),(6688,0.19),(6708,0.15),(6728,0.12),(6748,0.08),(6768,0.04),(6788,0.03),(6808,0.01),(6828,-0.03),(6848,-0.05),(6860,-0.08),(6880,-0.14),(6900,-0.19),(6912,-0.17),(6928,-0.07),(6940,0.08),(6960,0.30),(6980,0.44),(7000,0.48),(7020,0.52),(7032,0.48),(7048,0.43),(7072,0.35),(7100,0.26),(7120,0.19),(7140,0.23),(7160,0.28),(7180,0.37),(7200,0.41),(7220,0.44),(7240,0.48),(7260,0.46),(7280,0.44),(7300,0.37),(7320,0.30),(7340,0.26),(7360,0.19),(7400,0.12),(7440,0.04),(7480,0.01),(7520,-0.03),(7540,-0.07),(7560,-0.12),(7572,-0.07),(7592,-0.04),(7620,-0.06),(7648,-0.03),(7680,0.01),(7712,0.08),(7740,0.13),(7760,0.17),(7780,0.15),(7800,0.12),(7840,0.08),(7880,0.03),(7920,-0.01),(7960,-0.03),(8000,-0.07),(8040,-0.12),(8080,-0.16),(8120,-0.15),(8160,-0.14),(8200,-0.17),(8240,-0.21),(8260,-0.25),(8280,-0.30),(8300,-0.36),(8320,-0.41),(8340,-0.42),(8360,-0.37),(8380,-0.28),(8400,-0.19),(8420,-0.12),(8440,-0.10),(8460,-0.07),(8480,0.04),(8520,0.15),(8560,0.30),(8600,0.52),(8640,0.70),(8660,0.75),(8680,0.73),(8700,0.66),(8720,0.59),(8740,0.48),(8760,0.37),(8800,0.23),(8840,0.08),(8860,-0.03),(8880,-0.07),(8900,-0.03),(8920,-0.07),(8940,-0.05),(8960,-0.03),(8972,0.08),(8984,-0.07),(9000,-0.08),(9040,-0.10),(9080,-0.12),(9104,-0.14)]

# Object labels: (text, wavelength, flux level)
labels_A = [("2017iro (-7d)", 9150, 1.68), ("2007Y (-10d)", 9150, 0.94),
            ("2009jf (-7d)", 9150, 0.65), ("iPTF13bvn (-6d)", 9150, -0.14)]
labels_B = [("2017iro (+0.3d)", 9150, 1.66), ("2009jf (-1d)", 9100, 0.83),
            ("2012au (0d)", 9150, 0.48), ("iPTF13bvn (0d)", 9150, -0.06)]
labels_C = [("2017iro (+31d)", 9150, 1.80), ("2008D (+32d)", 9150, 0.87),
            ("2009jf (+30d)", 9050, 0.37), ("iPTF13bvn (+33d)", 9150, 0.00)]

# Telluric absorption markers (wavelength, flux level)
telluric = [(6860, 1.645), (7600, 1.54)]

NAVY, PINK, RED = "#000080", "#ff69b4", "#ff0000"
GREEN, BLUE, ORANGE = "#2e8b57", "#0000ff", "#ffa500"

panels = [
    # letter, x axis, y axis, y-range, domain, spectra, labels, letter y
    ("A", "x3", "y3", [-0.549, 2.533], [0.6691, 1.0],
     [(A_2017iro, NAVY), (A_2007Y, PINK), (A_2009jf, RED), (A_iPTF13bvn, GREEN)], labels_A, 2.11),
    ("B", "x2", "y2", [-0.52, 2.475], [0.3382, 0.6654],
     [(B_2017iro, NAVY), (B_2009jf, RED), (B_2012au, ORANGE), (B_iPTF13bvn, GREEN)], labels_B, 2.06),
    ("C", "x", "y", [-0.545, 2.411], [0.0, 0.3321],
     [(C_2017iro, NAVY), (C_2008D, BLUE), (C_2009jf, RED), (C_iPTF13bvn, GREEN)], labels_C, 2.16),
]

FONT = "DejaVu Sans"
fig = go.Figure()

for letter, xa, ya, yr, dom, spectra, labels, ly in panels:
    for pts, col in spectra:
        wl = [p[0] for p in pts]
        fl = [p[1] for p in pts]
        fig.add_trace(go.Scatter(x=wl, y=fl, mode="lines", xaxis=xa, yaxis=ya,
                                 line=dict(color=col, width=1.15), showlegend=False,
                                 hoverinfo="skip"))
    for txt, lx, lyv in labels:
        fig.add_annotation(x=lx, y=lyv, xref=xa, yref=ya, text=txt, showarrow=False,
                           xanchor="left", yanchor="middle",
                           font=dict(family=FONT, size=12, color="#262626"))
    fig.add_annotation(x=9400, y=ly, xref=xa, yref=ya, text=letter, showarrow=False,
                       xanchor="center", yanchor="middle",
                       font=dict(family=FONT, size=18, color="red"))
    for tx, ty in telluric:
        fig.add_annotation(x=tx, y=ty, xref=xa, yref=ya, text="⊕", showarrow=False,
                           xanchor="center", yanchor="middle",
                           font=dict(family=FONT, size=11, color="#333333"))

xcommon = dict(range=[3392, 10586], tick0=0, dtick=1000, tickformat="d",
               ticks="inside", ticklen=7,
               tickwidth=1.4, tickcolor="black", showline=True, linecolor="black",
               linewidth=1.4, mirror="allticks", showgrid=True, gridcolor="#c8c8c8",
               gridwidth=1, griddash="4px,3px", zeroline=False,
               minor=dict(dtick=200, ticks="inside", ticklen=4, tickwidth=1,
                          tickcolor="black", showgrid=False),
               tickfont=dict(family=FONT, size=16.5, color="black"))

for letter, xa, ya, yr, dom, spectra, labels, ly in panels:
    xname = "xaxis" if xa == "x" else "xaxis" + xa[1:]
    yname = "yaxis" if ya == "y" else "yaxis" + ya[1:]
    xd = dict(xcommon, anchor=ya, showticklabels=(xa == "x"))
    if xa != "x":
        xd["matches"] = "x"
    yd = dict(range=yr, domain=dom, anchor=xa, tick0=0, dtick=1, ticks="inside",
              ticklen=7, tickwidth=1.4, tickcolor="black", showticklabels=False,
              showline=True, linecolor="black", linewidth=1.4, mirror="allticks",
              showgrid=True, gridcolor="#c8c8c8", gridwidth=1, griddash="4px,3px",
              zeroline=False,
              minor=dict(dtick=0.2, ticks="inside", ticklen=4, tickwidth=1,
                         tickcolor="black", showgrid=False))
    fig.update_layout(**{xname: xd, yname: yd})

fig.add_annotation(x=0.5008, y=-0.0417, xref="paper", yref="paper",
                   text="Rest Wavelength [Å]", showarrow=False,
                   xanchor="center", yanchor="middle",
                   font=dict(family=FONT, size=16.5, color="#262626"))
fig.add_annotation(x=-0.025, y=0.485, xref="paper", yref="paper", textangle=-90,
                   text="Scaled Flux [erg cm<sup>−2</sup> s<sup>−1</sup> Å<sup>−1</sup>] + Const.",
                   showarrow=False, xanchor="center", yanchor="middle",
                   font=dict(family=FONT, size=16.5, color="#262626"))

fig.update_layout(width=633, height=873, margin=dict(l=32, r=1, t=8, b=49),
                  paper_bgcolor="white", plot_bgcolor="white")

fig.write_html("out.html")
